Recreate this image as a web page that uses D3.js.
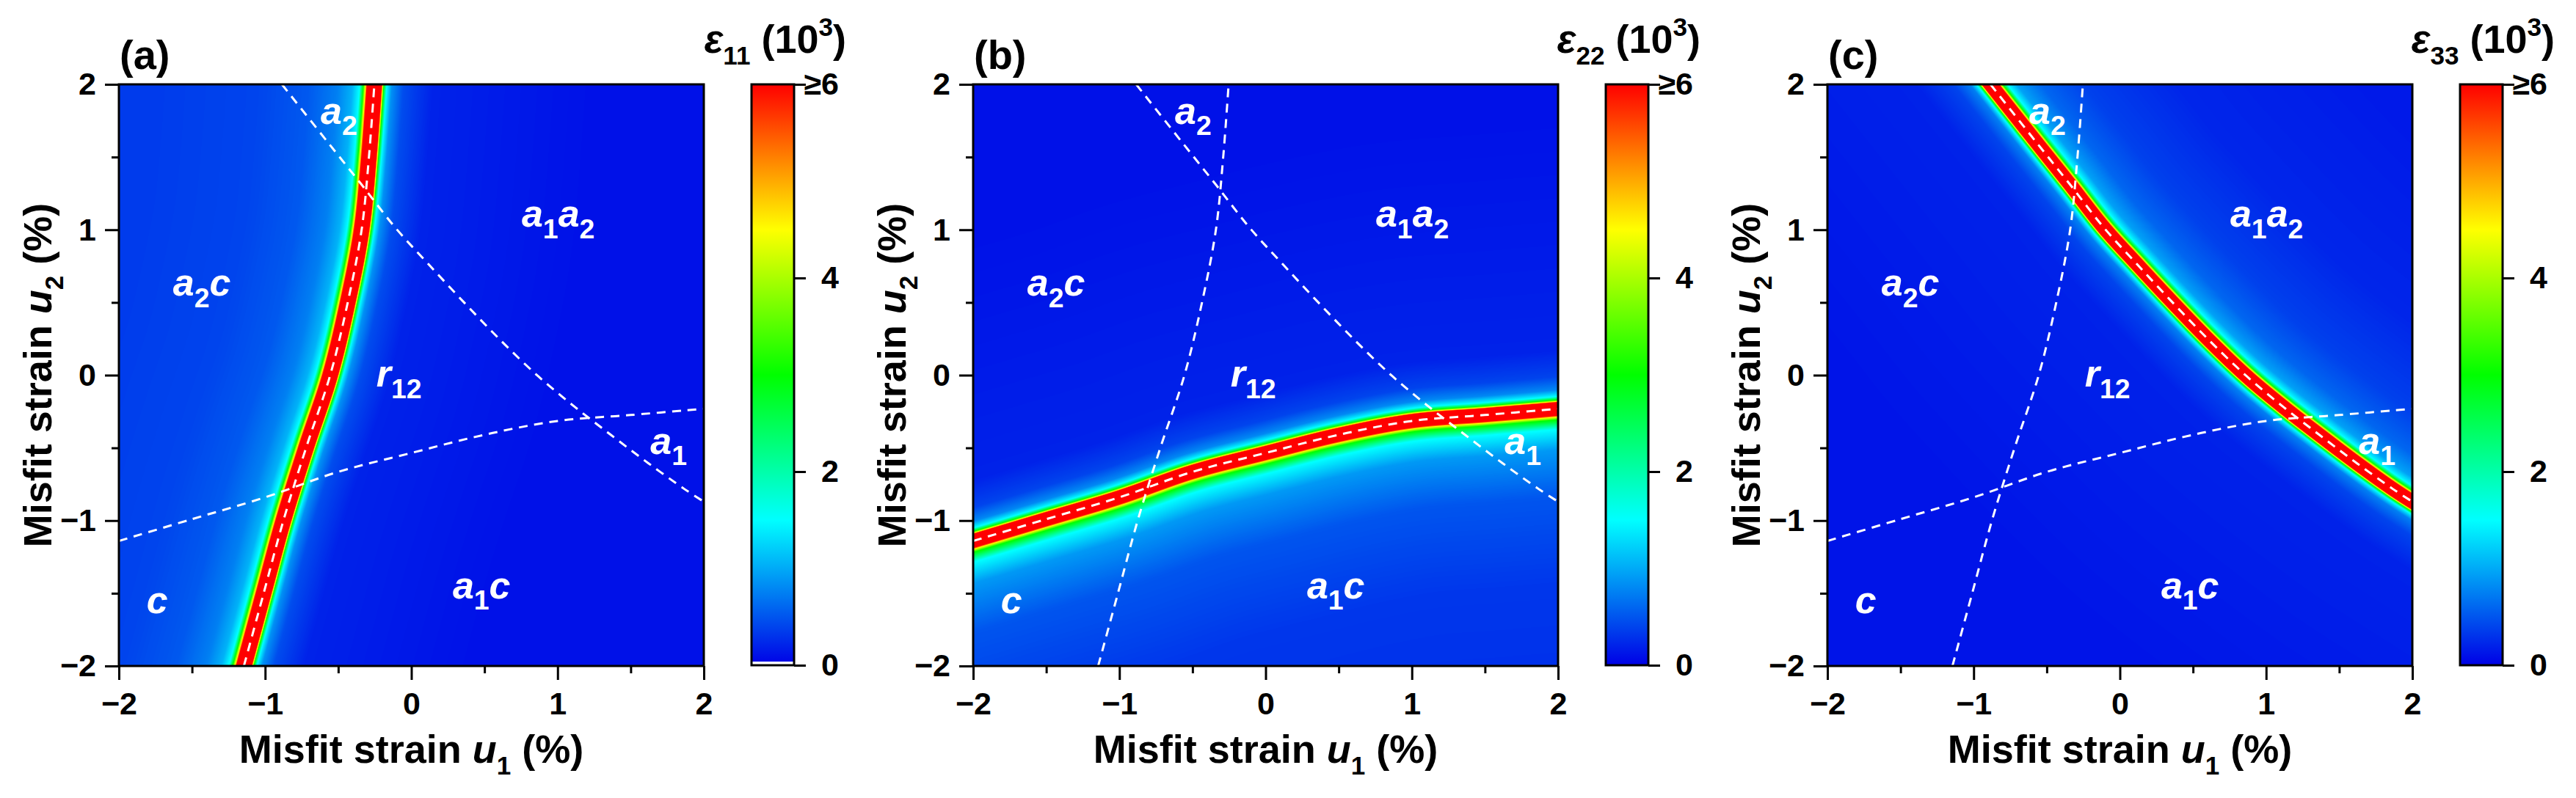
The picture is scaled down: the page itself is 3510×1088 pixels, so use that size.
<!DOCTYPE html>
<html>
<head>
<meta charset="utf-8">
<script src="https://cdn.jsdelivr.net/npm/d3@7"></script>
<style>
  html, body { margin: 0; padding: 0; background: #fff; }
  svg { display: block; font-family: "Liberation Sans", Arial, sans-serif; }
  text { white-space: pre; }
</style>
</head>
<body>
<svg id="fig" width="3510" height="1088"></svg>
<script>
// ---- values ----
const panelTags = ['(a)', '(b)', '(c)'];
const epsIndex = ['11', '22', '33'];
const ridgeLine = ['line1', 'line2', 'line3'];   // boundary along which each component diverges
const lowBand = [true, false, false];            // thin white strip under 0 on the first colour bar

const u1Ticks = [-2, -1, 0, 1, 2];
const u2Ticks = [-2, -1, 0, 1, 2];
const minorTicks = [-1.5, -0.5, 0.5, 1.5];
const epsTicks = [0, 2, 4, 6];
const epsTickLabels = ['0', '2', '4', '\u22656'];

const colorStops = [0, 1.5, 3, 4.5, 6];
const colorValues = ['#0000e6', '#00ffff', '#00ff00', '#ffff00', '#ff0000'];

// phase boundaries (misfit strain, %)
const line1U2 = [-2, -1.5, -1, -0.5, 0, 0.5, 1, 1.5, 2];
const line1U1 = [-1.145, -1.01, -0.875, -0.72, -0.555, -0.435, -0.34, -0.29, -0.253];
const line2U1 = [-2, -1.5, -1, -0.5, 0, 0.5, 1, 1.5, 2];
const line2U2 = [-1.14, -0.99, -0.84, -0.665, -0.535, -0.41, -0.315, -0.274, -0.232];
const line3U1 = [-0.885, -0.57, -0.34, -0.11, 0.12, 0.37, 0.62, 0.87, 1.12, 1.37, 1.62, 1.87, 2.0];
const line3U2 = [2.0, 1.60, 1.31, 1.015, 0.76, 0.49, 0.23, -0.01, -0.22, -0.415, -0.605, -0.785, -0.87];

// permittivity (10^3) against distance from the ridge (% strain), each side of it
const glowDistA = [0, 0.05, 0.06, 0.075, 0.1, 0.15, 0.25, 0.45, 0.8, 1.5];
const glowEpsA = [8, 6, 4.5, 3, 1.5, 1.05, 0.75, 0.52, 0.4, 0.35];
const tightDistA = [0, 0.05, 0.057, 0.065, 0.085, 0.12, 0.2, 0.4, 1.5];
const tightEpsA = [8, 6, 4.5, 3, 1.5, 0.85, 0.45, 0.2, 0.1];

const glowDistB = [0, 0.045, 0.055, 0.075, 0.14, 0.28, 0.6, 1.2, 2.5];
const glowEpsB = [8, 6, 4.5, 3, 1.5, 0.9, 0.5, 0.32, 0.25];
const tightDistB = [0, 0.045, 0.052, 0.062, 0.085, 0.13, 0.22, 0.4, 2];
const tightEpsB = [8, 6, 4.5, 3, 1.5, 0.8, 0.4, 0.2, 0.1];

const glowDistC = [0, 0.045, 0.053, 0.065, 0.09, 0.14, 0.27, 0.5, 1, 2];
const glowEpsC = [8, 6, 4.5, 3, 1.5, 0.95, 0.6, 0.38, 0.22, 0.15];
const tightDistC = [0, 0.045, 0.052, 0.06, 0.075, 0.11, 0.2, 0.4, 2];
const tightEpsC = [8, 6, 4.5, 3, 1.5, 0.75, 0.4, 0.2, 0.12];

// region names (text, left/baseline position in strain units)
const regionText = ['a_2', 'a_1a_2', 'a_2c', 'r_12', 'a_1', 'a_1c', 'c'];
const regionU1 = [-0.62, 0.755, -1.63, -0.24, 1.635, 0.283, -1.81];
const regionU2 = [1.73, 1.02, 0.545, -0.08, -0.54, -1.535, -1.635];

// ---- layout ----
const panelStep = 1164;
const plotLeft = 162, plotTop = 115, plotW = 797, plotH = 793;
const cbarLeft = 1024, cbarW = 58;

// left of travel / right of travel along each ridge line
const leftDist = [glowDistA, tightDistB, glowDistC];
const leftEps = [glowEpsA, tightEpsB, glowEpsC];
const rightDist = [tightDistA, glowDistB, tightDistC];
const rightEps = [tightEpsA, glowEpsB, tightEpsC];

const boundaries = {
    line1: d3.zip(line1U1, line1U2),
    line2: d3.zip(line2U1, line2U2),
    line3: d3.zip(line3U1, line3U2)
};

const color = d3.scaleLinear().domain(colorStops).range(colorValues).clamp(true);
const curve = d3.line().curve(d3.curveCatmullRom.alpha(0.5));
const svg = d3.select('#fig');
const defs = svg.append('defs');

/**
 * Write text made of pieces: [string, kind], kind = r | i | sub | sup
 */
function rich(text, pieces, size, subScale = 0.7) {
    let shift = 0;
    pieces.forEach(([s, kind]) => {
        let target = 0, fs = size;
        if (kind === 'sub') { target = 0.3 * size; fs = subScale * size; }
        if (kind === 'sup') { target = -0.42 * size; fs = subScale * size; }
        const t = text.append('tspan').text(s)
            .attr('font-size', fs)
            .attr('dy', target - shift);
        if (kind === 'i') t.attr('font-style', 'italic');
        shift = target;
    });
    return text;
}

/**
 * Paint the permittivity map of one panel into a canvas, placed as an image
 */
function paintField(plot, p, x, y) {
    const pts = boundaries[ridgeLine[p]].map(d => [x(d[0]), y(d[1])]);
    const probe = plot.append('path').attr('d', curve(pts)).attr('fill', 'none');
    const node = probe.node();
    const L = node.getTotalLength();
    const n = 140;
    const sx = new Float64Array(n + 1), sy = new Float64Array(n + 1);
    d3.range(n + 1).forEach(i => {
        const q = node.getPointAtLength(L * i / n);
        sx[i] = q.x; sy[i] = q.y;
    });
    probe.remove();

    const sideL = d3.scaleLinear().domain(leftDist[p]).range(leftEps[p]).clamp(true);
    const sideR = d3.scaleLinear().domain(rightDist[p]).range(rightEps[p]).clamp(true);
    const lut = d3.range(601).map(i => d3.rgb(color(i / 100)));
    const unit = ((x(1) - x(0)) + (y(0) - y(1))) / 2;

    const canvas = document.createElement('canvas');
    canvas.width = plotW;
    canvas.height = plotH;
    const ctx = canvas.getContext('2d');
    const img = ctx.createImageData(plotW, plotH);
    const m = n;

    for (let j = 0; j < plotH; j++) {
        const py = j + 0.5;
        for (let i = 0; i < plotW; i++) {
            const px = i + 0.5;
            let best = Infinity, cr = 0;
            for (let k = 0; k < m; k++) {
                const ax = sx[k], ay = sy[k];
                const vx = sx[k + 1] - ax, vy = sy[k + 1] - ay;
                const len2 = vx * vx + vy * vy;
                if (len2 === 0) continue;
                let t = ((px - ax) * vx + (py - ay) * vy) / len2;
                if (k > 0 && t < 0) t = 0;
                if (k < m - 1 && t > 1) t = 1;
                const dx = px - (ax + t * vx), dy = py - (ay + t * vy);
                const d2 = dx * dx + dy * dy;
                if (d2 < best) { best = d2; cr = vx * dy - vy * dx; }
            }
            const d = Math.sqrt(best) / unit;
            const v = cr < 0 ? sideL(d) : sideR(d);
            const c = lut[Math.max(0, Math.min(600, Math.round(v * 100)))];
            const o = (j * plotW + i) * 4;
            img.data[o] = c.r;
            img.data[o + 1] = c.g;
            img.data[o + 2] = c.b;
            img.data[o + 3] = 255;
        }
    }
    ctx.putImageData(img, 0, 0);

    plot.append('image')
        .attr('x', 0).attr('y', 0)
        .attr('width', plotW).attr('height', plotH)
        .attr('preserveAspectRatio', 'none')
        .attr('href', canvas.toDataURL('image/png'));
}

function styleAxis(sel, fontSize) {
    sel.select('.domain').remove();
    sel.selectAll('line').attr('stroke', '#000').attr('stroke-width', 3);
    sel.selectAll('text')
        .attr('fill', '#000')
        .attr('font-size', fontSize)
        .attr('font-weight', 'bold')
        .attr('font-family', '"Liberation Sans", Arial, sans-serif');
}

panelTags.forEach((tag, p) => {
    const g = svg.append('g').attr('transform', `translate(${p * panelStep},0)`);
    const x = d3.scaleLinear().domain([-2, 2]).range([0, plotW]);
    const y = d3.scaleLinear().domain([-2, 2]).range([plotH, 0]);

    const clipId = `clip-${p}`;
    defs.append('clipPath').attr('id', clipId)
        .append('rect').attr('width', plotW).attr('height', plotH);

    const plot = g.append('g').attr('transform', `translate(${plotLeft},${plotTop})`);
    const inner = plot.append('g').attr('clip-path', `url(#${clipId})`);

    paintField(inner, p, x, y);

    // dashed phase boundaries
    Object.keys(boundaries).forEach(key => {
        inner.append('path')
            .attr('d', curve(boundaries[key].map(d => [x(d[0]), y(d[1])])))
            .attr('fill', 'none')
            .attr('stroke', '#fff')
            .attr('stroke-width', 3)
            .attr('stroke-dasharray', '12,9');
    });

    // region names
    regionText.forEach((name, i) => {
        const pieces = name.split(/(_\d+)/).filter(Boolean)
            .map(s => s[0] === '_' ? [s.slice(1), 'sub'] : [s, 'i']);
        const t = inner.append('text')
            .attr('x', x(regionU1[i]))
            .attr('y', y(regionU2[i]))
            .attr('fill', '#fff')
            .attr('font-weight', 'bold');
        rich(t, pieces, 52, 0.72);
    });

    // frame
    plot.append('rect')
        .attr('width', plotW).attr('height', plotH)
        .attr('fill', 'none')
        .attr('stroke', '#000')
        .attr('stroke-width', 3);

    // axes
    const xAxis = plot.append('g').attr('transform', `translate(0,${plotH})`)
        .call(d3.axisBottom(x).tickValues(u1Ticks).tickSize(19).tickPadding(16).tickFormat(d3.format('d')));
    styleAxis(xAxis, 43);
    const xMinor = plot.append('g').attr('transform', `translate(0,${plotH})`)
        .call(d3.axisBottom(x).tickValues(minorTicks).tickSize(10).tickFormat(''));
    styleAxis(xMinor, 43);

    const yAxis = plot.append('g')
        .call(d3.axisLeft(y).tickValues(u2Ticks).tickSize(19).tickPadding(12).tickFormat(d3.format('d')));
    styleAxis(yAxis, 43);
    const yMinor = plot.append('g')
        .call(d3.axisLeft(y).tickValues(minorTicks).tickSize(10).tickFormat(''));
    styleAxis(yMinor, 43);

    // axis titles
    const xt = plot.append('text')
        .attr('x', plotW / 2).attr('y', 925)
        .attr('text-anchor', 'middle')
        .attr('font-weight', 'bold');
    rich(xt, [['Misfit strain ', 'r'], ['u', 'i'], ['1', 'sub'], [' (%)', 'r']], 54, 0.65);

    const yt = g.append('text')
        .attr('transform', `translate(70,${plotTop + plotH / 2}) rotate(-90)`)
        .attr('text-anchor', 'middle')
        .attr('font-weight', 'bold');
    rich(yt, [['Misfit strain ', 'r'], ['u', 'i'], ['2', 'sub'], [' (%)', 'r']], 54, 0.65);

    // panel tag
    g.append('text')
        .attr('x', 163).attr('y', 94)
        .attr('font-size', 56)
        .attr('font-weight', 'bold')
        .text(tag);

    // colour bar
    const gradId = `grad-${p}`;
    const grad = defs.append('linearGradient').attr('id', gradId)
        .attr('x1', 0).attr('y1', 1).attr('x2', 0).attr('y2', 0);
    colorStops.forEach((s, i) => {
        grad.append('stop')
            .attr('offset', s / colorStops[colorStops.length - 1])
            .attr('stop-color', colorValues[i]);
    });

    const cb = g.append('g').attr('transform', `translate(${cbarLeft},${plotTop})`);
    const cy = d3.scaleLinear().domain([0, 6]).range([plotH - 1, 0]);
    cb.append('rect')
        .attr('width', cbarW).attr('height', plotH - 1)
        .attr('fill', `url(#${gradId})`);
    if (lowBand[p]) {
        cb.append('rect')
            .attr('y', plotH - 6).attr('width', cbarW).attr('height', 4)
            .attr('fill', '#fff');
    }
    cb.append('rect')
        .attr('width', cbarW).attr('height', plotH - 1)
        .attr('fill', 'none')
        .attr('stroke', '#000')
        .attr('stroke-width', 3);

    const cAxis = cb.append('g').attr('transform', `translate(${cbarW},0)`)
        .call(d3.axisRight(cy).tickValues(epsTicks).tickSize(16)
            .tickFormat((d, i) => epsTickLabels[i]));
    styleAxis(cAxis, 43);
    cAxis.selectAll('text').attr('text-anchor', 'end').attr('x', 61);

    const ct = g.append('text')
        .attr('x', 1153).attr('y', 72)
        .attr('text-anchor', 'end')
        .attr('font-weight', 'bold');
    rich(ct, [['\u03b5', 'i'], [epsIndex[p], 'sub'], [' (10', 'r'], ['3', 'sup'], [')', 'r']], 54, 0.65);
});
</script>
</body>
</html>
